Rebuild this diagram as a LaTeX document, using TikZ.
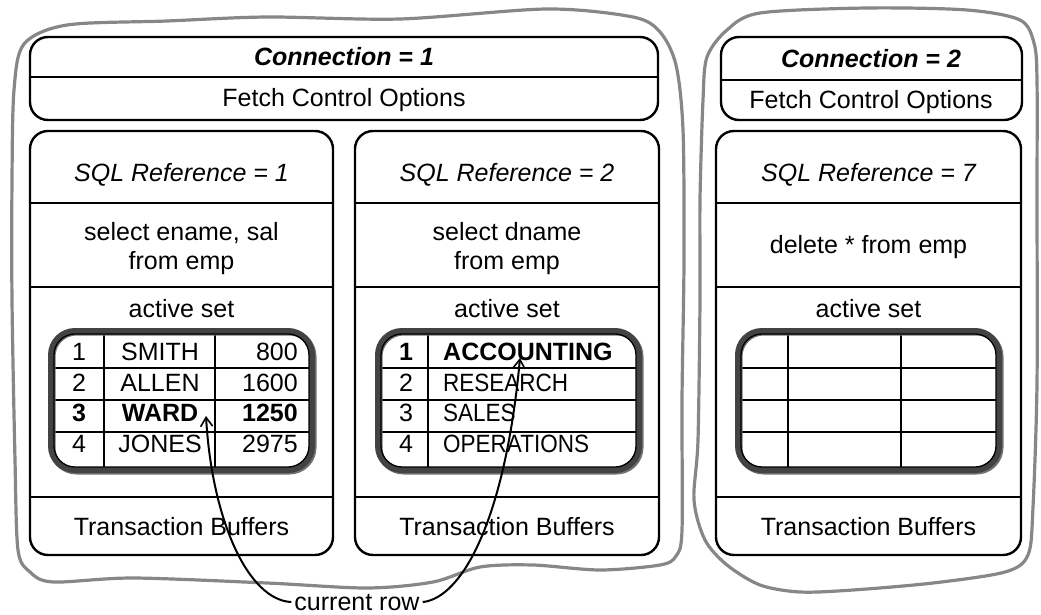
\documentclass[tikz,border=0pt]{standalone}
\usepackage{fontspec}
\setmainfont{Liberation Sans}
\usepackage{graphicx}
\usetikzlibrary{arrows.meta}

\definecolor{wavegray}{HTML}{878787}
\definecolor{setgray}{HTML}{434343}
\newcommand\dfont{\fontsize{25}{28}\selectfont}
\newcommand\narrow[1]{\scalebox{0.9}[1]{#1}}

\begin{document}
\begin{tikzpicture}[x=1pt,y=-1pt,
  every node/.style={font=\dfont, inner sep=0pt},
  txt/.style={anchor=base},
  box/.style={draw=black, line width=2.4pt, rounded corners=18pt},
  divider/.style={draw=black, line width=2.4pt},
  wave/.style={draw=wavegray, line width=3.2pt, line join=round},
  setframe/.style={draw=setgray, line width=6pt, rounded corners=24pt},
  setshade/.style={draw=setgray!75, line width=6pt, rounded corners=24pt},
  setedge/.style={draw=black, line width=1.3pt, rounded corners=21pt},
  gridline/.style={draw=black, line width=2.4pt},
  pointer/.style={draw=black, line width=2pt,
    -{Straight Barb[length=9pt,width=12pt,line width=1.6pt]}}]

\useasboundingbox (0,0) rectangle (1041,615);

% wavy connection outlines
\draw[wave] plot[smooth cycle, tension=0.5] coordinates {
  (24,44) (67,25) (167,21) (267,17) (400,19) (547,9) (633,17) (660,32)
  (676,65) (683,130) (684,260) (682,400) (682,530) (676,556) (660,565)
  (600,570) (533,565) (480,567) (433,582) (367,588) (267,583) (133,578)
  (53,582) (30,572) (18,550) (15,460) (12,300) (12,180) (14,90)};
\draw[wave] plot[smooth cycle, tension=0.5] coordinates {
  (707,57) (727,30) (760,13) (867,8) (967,10) (1020,20) (1034,43)
  (1037,80) (1037,200) (1037,383) (1033,507) (1028,555) (1005,572)
  (933,583) (853,590) (800,592) (760,585) (727,565) (705,540) (694,500)
  (698,440) (700,300) (700,200) (703,100)};

% connection headers
\draw[box] (30,37) rectangle (658,120);
\draw[divider] (30,77) -- (658,77);
\node[txt, font=\dfont\bfseries\itshape] (conn1) at (344,66) {Connection = 1};
\node[txt] (fetch1) at (344,107) {Fetch Control Options};

\draw[box] (721,37) rectangle (1022,120);
\draw[divider] (721,80) -- (1022,80);
\node[txt, font=\dfont\bfseries\itshape] (conn2) at (871,68) {Connection = 2};
\node[txt] (fetch2) at (871,109) {Fetch Control Options};

% SQL reference boxes
\foreach \l/\r in {30/333, 355/659, 716/1021}{
  \draw[box] (\l,131) rectangle (\r,555);
  \draw[divider] (\l,203) -- (\r,203);
  \draw[divider] (\l,287) -- (\r,287);
  \draw[divider] (\l,497) -- (\r,497);
}

\node[txt, font=\dfont\itshape] (ref1) at (181.5,181) {SQL Reference = 1};
\node[txt] (q1a) at (181.5,240) {select ename, sal};
\node[txt] (q1b) at (181.5,269) {from emp};
\node[txt] (as1) at (181.5,317) {active set};
\node[txt] (tb1) at (181.5,535) {Transaction Buffers};

\node[txt, font=\dfont\itshape] (ref2) at (507,181) {SQL Reference = 2};
\node[txt] (q2a) at (507,240) {select dname};
\node[txt] (q2b) at (507,269) {from emp};
\node[txt] (as2) at (507,317) {active set};
\node[txt] (tb2) at (507,535) {Transaction Buffers};

\node[txt, font=\dfont\itshape] (ref3) at (868.5,181) {SQL Reference = 7};
\node[txt] (q3) at (868.5,253) {delete * from emp};
\node[txt] (as3) at (868.5,317) {active set};
\node[txt] (tb3) at (868.5,535) {Transaction Buffers};

% active set 1: employees
\foreach \y in {368,400,432} \draw[gridline] (53,\y) -- (310,\y);
\foreach \x in {104,215} \draw[gridline] (\x,333) -- (\x,468);
\draw[setshade] (52.5,332.5) rectangle (313.5,471.5);
\draw[setframe] (51,331) rectangle (312,470);
\draw[setedge] (54,334) rectangle (309,467);
\node[txt] (e1n) at (79,360) {1};
\node[txt] (e1m) at (160,360) {SMITH};
\node[txt, anchor=base east] (e1s) at (298,360) {800};
\node[txt] (e2n) at (79,391) {2};
\node[txt] (e2m) at (160,391) {ALLEN};
\node[txt, anchor=base east] (e2s) at (298,391) {1600};
\node[txt, font=\dfont\bfseries] (e3n) at (79,421) {3};
\node[txt, font=\dfont\bfseries] (e3m) at (160,421) {WARD};
\node[txt, font=\dfont\bfseries, anchor=base east] (e3s) at (298,421) {1250};
\node[txt] (e4n) at (79,452) {4};
\node[txt] (e4m) at (160,452) {JONES};
\node[txt, anchor=base east] (e4s) at (298,452) {2975};

% active set 2: departments
\foreach \y in {368,400,432} \draw[gridline] (380,\y) -- (637,\y);
\draw[gridline] (428,333) -- (428,468);
\draw[setshade] (379.5,332.5) rectangle (640.5,471.5);
\draw[setframe] (378,331) rectangle (639,470);
\draw[setedge] (381,334) rectangle (636,467);
\node[txt, font=\dfont\bfseries] (d1n) at (406,360) {1};
\node[txt, font=\dfont\bfseries, anchor=base west] (d1m) at (443,360) {ACCOUNTING};
\node[txt] (d2n) at (406,391) {2};
\node[txt, anchor=base west] (d2m) at (443,391) {\narrow{RESEARCH}};
\node[txt] (d3n) at (406,421) {3};
\node[txt, anchor=base west] (d3m) at (443,421) {\narrow{SALES}};
\node[txt] (d4n) at (406,452) {4};
\node[txt, anchor=base west] (d4m) at (443,452) {\narrow{OPERATIONS}};

% active set 3: empty
\foreach \y in {368,400,432} \draw[gridline] (740,\y) -- (997,\y);
\foreach \x in {788,901} \draw[gridline] (\x,333) -- (\x,468);
\draw[setshade] (739.5,332.5) rectangle (1000.5,471.5);
\draw[setframe] (738,331) rectangle (999,470);
\draw[setedge] (741,334) rectangle (996,467);

% current row pointers
\node[txt] (cr) at (357,610) {current row};
\coordinate (wardtip) at (206,416);
\coordinate (acctip) at (520,358);
\draw[pointer] ([xshift=-3pt]cr.west) .. controls (248,600) and (212,520) .. (wardtip);
\draw[pointer] ([xshift=3pt]cr.east) .. controls (462,598) and (505,520) .. (acctip);
\end{tikzpicture}
\end{document}
